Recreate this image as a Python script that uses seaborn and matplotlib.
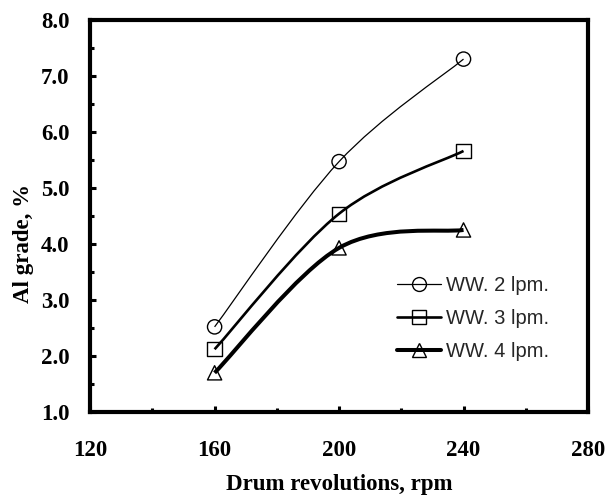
import numpy as np
import matplotlib
matplotlib.use("Agg")
import matplotlib.pyplot as plt
import seaborn as sns
from matplotlib.path import Path
from matplotlib.patches import PathPatch
from matplotlib.lines import Line2D
from matplotlib.ticker import MultipleLocator, FormatStrFormatter

# ---- data ----
rpm = [160, 200, 240]
ww2 = [2.52, 5.47, 7.30]
ww3 = [2.12, 4.54, 5.66]
ww4 = [1.70, 3.93, 4.25]
series_labels = ["WW. 2 lpm.", "WW. 3 lpm.", "WW. 4 lpm."]
x_ticks = [120, 160, 200, 240, 280]
y_ticks = [1.0, 2.0, 3.0, 4.0, 5.0, 6.0, 7.0, 8.0]

markers = ["o", "s", "^"]
widths = [0.9, 1.9, 2.9]

sns.set_theme(style="white")
plt.rcParams['font.family'] = ['Liberation Serif', 'DejaVu Serif']

fig = plt.figure(figsize=(6.09, 4.97), dpi=100)
ax = fig.add_axes([0.148, 0.171, 0.8175, 0.789])


def smooth_path(x, y):
    """Excel-like smoothed line (cubic Bezier through the data points)."""
    pts = np.column_stack([x, y]).astype(float)
    n = len(pts)
    verts = [pts[0]]
    codes = [Path.MOVETO]
    for i in range(n - 1):
        p0 = pts[i - 1] if i > 0 else pts[i]
        p1 = pts[i]
        p2 = pts[i + 1]
        p3 = pts[i + 2] if i + 2 < n else pts[i + 1]
        c1 = p1 + (p2 - p0) / 6.0
        c2 = p2 - (p3 - p1) / 6.0
        verts += [c1, c2, p2]
        codes += [Path.CURVE4] * 3
    return Path(verts, codes)


handles = []
for vals, lab, m, lw in zip([ww2, ww3, ww4], series_labels, markers, widths):
    ax.add_patch(PathPatch(smooth_path(rpm, vals), facecolor="none",
                           edgecolor="black", lw=lw, zorder=2))
    sns.scatterplot(x=rpm, y=vals, ax=ax, marker=m, s=105,
                    facecolor="none", edgecolor="black", linewidth=1.0,
                    zorder=3)
    handles.append(Line2D([0], [0], color="black", lw=lw, marker=m,
                          markersize=10, markerfacecolor="none",
                          markeredgecolor="black", markeredgewidth=1.0))

ax.set_xlim(120, 280)
ax.set_ylim(1.0, 8.0)
ax.set_xticks(x_ticks)
ax.set_yticks(y_ticks)
ax.xaxis.set_minor_locator(MultipleLocator(20))
ax.yaxis.set_minor_locator(MultipleLocator(0.5))
ax.yaxis.set_major_formatter(FormatStrFormatter("%.1f"))

for s in ax.spines.values():
    s.set_visible(True)
    s.set_color("black")
    s.set_linewidth(3.0)

ax.tick_params(which="both", direction="in", left=True, bottom=True,
               right=False, top=False, color="black")
ax.tick_params(which="major", length=4, width=2.2)
ax.tick_params(which="minor", length=3, width=2.2)
ax.tick_params(axis="x", which="major", pad=20)
ax.tick_params(axis="y", which="major", pad=15)

for lbl in ax.get_xticklabels() + ax.get_yticklabels():
    lbl.set_fontsize(16.5)
    lbl.set_fontweight("bold")
    lbl.set_color("black")

ax.set_xlabel("Drum revolutions, rpm", fontsize=16.5, fontweight="bold", color="black")
ax.set_ylabel("Al grade, %", fontsize=16.5, fontweight="bold", color="black")
ax.xaxis.set_label_coords(0.5, -0.158)
ax.yaxis.set_label_coords(-0.112, 0.43)

leg = ax.legend(handles, series_labels, loc="upper left",
                bbox_to_anchor=(0.6, 0.367), frameon=False,
                prop={"family": "Liberation Sans", "size": 14.5},
                handlelength=2.2, handletextpad=0.25, labelspacing=0.7,
                borderaxespad=0.0)

fig.savefig("out.png", dpi=100)
